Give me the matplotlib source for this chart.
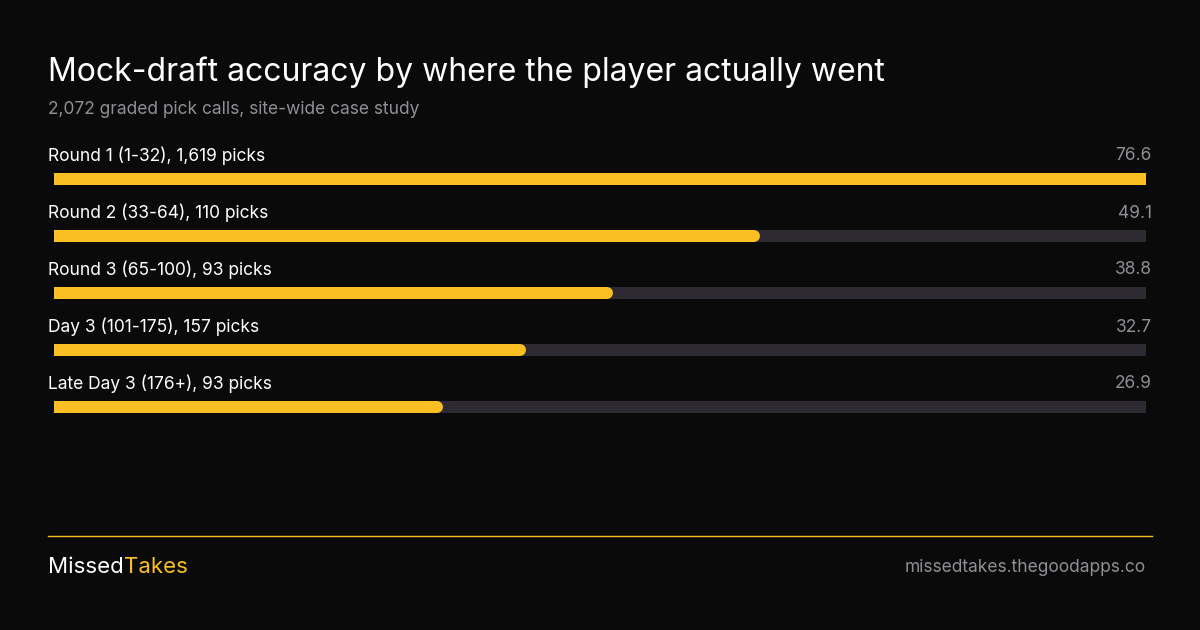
import matplotlib
matplotlib.use("Agg")
import matplotlib.pyplot as plt
from matplotlib.transforms import blended_transform_factory as btf

categories = ["Round 1 (1-32), 1,619 picks", "Round 2 (33-64), 110 picks",
              "Round 3 (65-100), 93 picks", "Day 3 (101-175), 157 picks",
              "Late Day 3 (176+), 93 picks"]
values = [76.6, 49.1, 38.8, 32.7, 26.9]

BG = "#0a0a0a"; YEL = "#fbbf24"; TRACK = "#2d2a32"; GREY = "#8f8f95"
plt.rcParams['font.family'] = ['Inter', 'DejaVu Sans']

W, H = 1200, 630
fig = plt.figure(figsize=(12, 6.3), dpi=100, facecolor=BG)
# overlay axes in pixel coords for text/layout
ov = fig.add_axes([0, 0, 1, 1]); ov.set_xlim(0, W); ov.set_ylim(H, 0); ov.axis('off')
ov.set_facecolor(BG)

ov.text(48, 72, "Mock-draft accuracy by where the player actually went", color="white",
        fontsize=23, va="center", ha="left")
ov.text(48, 110, "2,072 graded pick calls, site-wide case study", color=GREY,
        fontsize=12.5, va="center", ha="left")
ov.plot([48, 1152], [536, 536], color=YEL, lw=1)
t = ov.text(48, 567, "Missed", color="white", fontsize=16, va="center", ha="left")
fig.canvas.draw()
bb = t.get_window_extent()
ov.text(bb.x1 / 1, 567, "Takes", color=YEL, fontsize=16, va="center", ha="left")
ov.text(1146, 567, "missedtakes.thegoodapps.co", color=GREY, fontsize=12.5, va="center", ha="right")

# bar axes: x in data units
ax = fig.add_axes([54 / W, 0, 1092 / W, 1], facecolor="none")
ax.set_xlim(0, max(values)); ax.set_ylim(H, 0); ax.axis('off')
lw = 12 * 72 / 100
for i, (c, v) in enumerate(zip(categories, values)):
    yb = 179 + 57 * i
    ax.plot([0, max(values)], [yb, yb], color=TRACK, lw=lw, solid_capstyle='round')
    ax.plot([0, v], [yb, yb], color=YEL, lw=lw, solid_capstyle='round')
    ov.text(48, yb - 23, c, color="white", fontsize=12.5, va="center", ha="left")
    ov.text(1152, yb - 23, f"{v}", color=GREY, fontsize=12.5, va="center", ha="right")

fig.savefig("out.png", dpi=100, facecolor=BG)
